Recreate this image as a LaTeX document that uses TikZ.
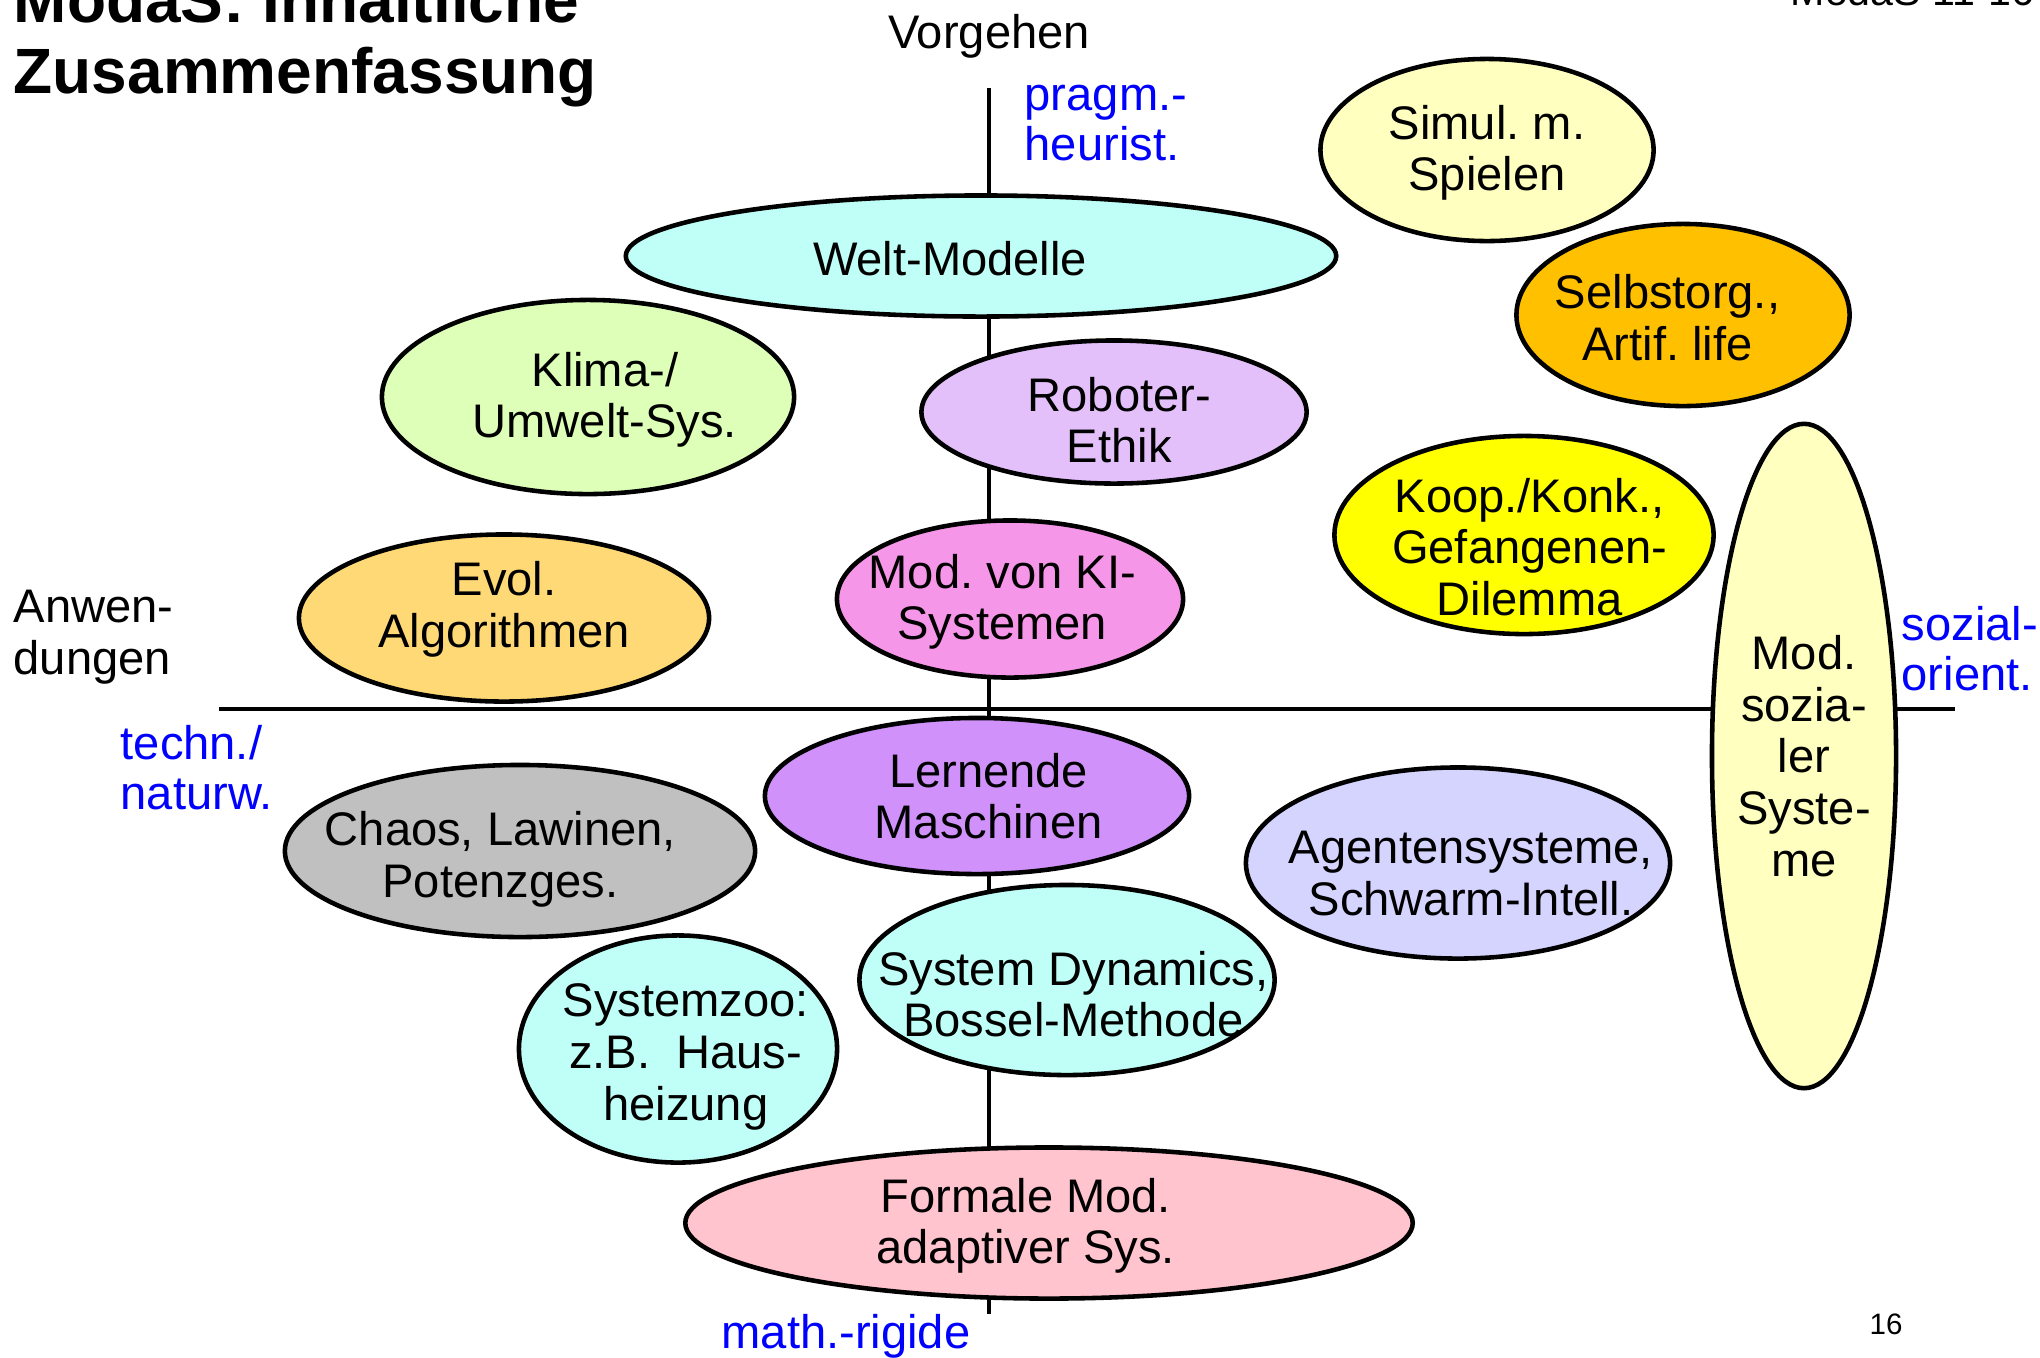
\documentclass[tikz,border=0pt]{standalone}
\usepackage{fontspec}
\setmainfont{Liberation Sans}
\usetikzlibrary{shapes.geometric}
\frenchspacing

\definecolor{cyanbg}{RGB}{192,255,248}
\definecolor{paleyel}{RGB}{255,255,192}
\definecolor{orangebg}{RGB}{255,192,0}
\definecolor{greenbg}{RGB}{221,255,184}
\definecolor{lilacbg}{RGB}{227,192,250}
\definecolor{yellowbg}{RGB}{255,255,0}
\definecolor{goldbg}{RGB}{255,217,118}
\definecolor{pinkbg}{RGB}{246,150,232}
\definecolor{purplebg}{RGB}{208,145,250}
\definecolor{greybg}{RGB}{192,192,192}
\definecolor{lavbg}{RGB}{212,212,255}
\definecolor{rosebg}{RGB}{255,196,206}

\begin{document}
\begin{tikzpicture}[x=0.01cm, y=-0.01cm,
    blob/.style={ellipse, draw, line width=1.3pt, inner sep=0pt},
    txt/.style={align=center, inner sep=0pt, font=\fontsize{13.4}{14.7}\selectfont},
    lbl/.style={txt, yshift=-0.8pt},
    side/.style={align=left, inner sep=0pt, text=blue, font=\fontsize{13.4}{14.2}\selectfont},
    axis/.style={line width=1.2pt}]
    \useasboundingbox (0,0) rectangle (2040,1357);
    \clip (0,0) rectangle (2040,1357);

    % Titel
    \node[anchor=south west, align=left, inner sep=0pt, font=\fontsize{18.2}{20.2}\selectfont\bfseries] (titel) at (13,108) {ModaS: Inhaltliche\\Zusammenfassung};
    \node[anchor=base west, inner sep=0pt, font=\fontsize{11.7}{13}\selectfont] (kopf) at (1790,5) {ModaS 11-16};

    % Achsen
    \coordinate (oben) at (989,88);
    \coordinate (unten) at (989,1314);
    \coordinate (links) at (219,709);
    \coordinate (rechts) at (1955,709);
    \draw[axis] (oben) -- (unten);
    \draw[axis] (links) -- (rechts);

    % Achsenbeschriftung
    \node[txt, anchor=base] (vorgehen) at (989,48) {Vorgehen};
    \node[side, anchor=west] (pragm) at (1024,123) {pragm.-\\heurist.};
    \node[txt, align=left, anchor=west] (anwend) at (13,637) {Anwen-\\dungen};
    \node[side, anchor=west] (techn) at (120,768) {techn./\\naturw.};
    \node[side, anchor=west] (sozial) at (1901,649) {sozial-\\orient.};
    \node[side, anchor=center] (rigide) at (846,1336) {math.-rigide};
    \node[inner sep=0pt, font=\fontsize{8.4}{10}\selectfont] (seite) at (1886,1324) {16};

    % Ellipsen
    \node[blob, fill=cyanbg, minimum width=7.1cm, minimum height=1.21cm, label={[lbl, xshift=-8.8pt]center:Welt-Modelle}] (welt) at (981,256) {};
    \node[blob, fill=paleyel, minimum width=3.33cm, minimum height=1.82cm, label={[lbl]center:{Simul. m.\\Spielen}}] (simul) at (1487,150) {};
    \node[blob, fill=orangebg, minimum width=3.33cm, minimum height=1.82cm, label={[lbl, xshift=-4.4pt]center:{Selbstorg.,\\Artif. life}}] (selbst) at (1683,315) {};
    \node[blob, fill=greenbg, minimum width=4.12cm, minimum height=1.94cm, label={[lbl, xshift=4.8pt]center:{Klima-/\\Umwelt-Sys.}}] (klima) at (588,397) {};
    \node[blob, fill=lilacbg, minimum width=3.85cm, minimum height=1.43cm, label={[lbl, xshift=1.5pt, yshift=-1.5pt]center:{Roboter-\\Ethik}}] (roboter) at (1114,412) {};
    \node[blob, fill=yellowbg, minimum width=3.79cm, minimum height=1.98cm, label={[lbl, xshift=1.6pt, yshift=-2.6pt]center:{Koop./Konk.,\\Gefangenen-\\Dilemma}}] (koop) at (1524,535) {};
    \node[blob, fill=paleyel, minimum width=1.84cm, minimum height=6.64cm, label={[txt]center:{Mod.\\sozia-\\ler\\Syste-\\me}}] (sozsys) at (1804,756) {};
    \node[blob, fill=goldbg, minimum width=4.1cm, minimum height=1.67cm, label={[lbl, yshift=3.3pt]center:{Evol.\\Algorithmen}}] (evol) at (504,618) {};
    \node[blob, fill=pinkbg, minimum width=3.46cm, minimum height=1.57cm, label={[lbl, xshift=-2.2pt]center:{Mod. von KI-\\Systemen}}] (ki) at (1010,599) {};
    \node[blob, fill=purplebg, minimum width=4.24cm, minimum height=1.56cm, label={[txt, xshift=3.3pt]center:{Lernende\\Maschinen}}] (lernen) at (977,796) {};
    \node[blob, fill=greybg, minimum width=4.7cm, minimum height=1.72cm, label={[lbl, xshift=-5.6pt, yshift=-1.5pt]center:{Chaos, Lawinen,\\Potenzges.}}] (chaos) at (520,851) {};
    \node[blob, fill=lavbg, minimum width=4.24cm, minimum height=1.91cm, label={[lbl, xshift=3.7pt, yshift=-2.2pt]center:{Agentensysteme,\\Schwarm-Intell.}}] (agenten) at (1458,863) {};
    \node[blob, fill=cyanbg, minimum width=4.15cm, minimum height=1.9cm, label={[txt, xshift=1.8pt, yshift=-4pt]center:{System Dynamics,\\Bossel-Methode}}] (sysdyn) at (1067,980) {};
    \node[blob, fill=cyanbg, minimum width=3.18cm, minimum height=2.27cm, label={[lbl, xshift=2.2pt, yshift=-1.5pt]center:{Systemzoo:\\z.B.\ \ Haus-\\heizung}}] (zoo) at (678,1049) {};
    \node[blob, fill=rosebg, minimum width=7.27cm, minimum height=1.51cm, label={[lbl, xshift=-6.6pt]center:{Formale Mod.\\adaptiver Sys.}}] (formal) at (1049,1223) {};
\end{tikzpicture}
\end{document}
